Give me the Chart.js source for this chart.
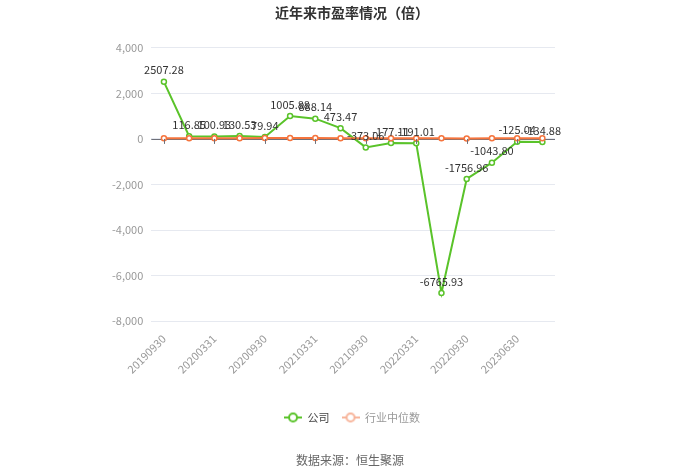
<!DOCTYPE html>
<html><head><meta charset="utf-8">
<script src="https://cdn.jsdelivr.net/npm/chart.js@4"></script>
<style>
html,body{margin:0;padding:0;background:#fff;}
#wrap{position:relative;width:700px;height:473px;}
#src{position:absolute;left:0;width:700px;top:451px;text-align:center;font:12px "Noto Sans CJK SC",sans-serif;color:#666;}
</style></head>
<body><div id="wrap"><canvas id="c" width="700" height="473"></canvas><div id="src">数据来源：恒生聚源</div></div>
<script>
const categories = ['20190930','20191231','20200331','20200630','20200930','20201231','20210331','20210630','20210930','20211231','20220331','20220630','20220930','20230331','20230630','20230930'];
const companyPE = [2507.28,116.85,100.93,130.53,79.94,1005.88,888.14,473.47,-373.06,-177.11,-191.01,-6765.93,-1756.96,-1043.80,-125.04,-134.88];
const industryPE = [32,30,29,33,35,38,36,34,30,28,26,24,23,25,27,28];
const yTicks = [4000,2000,0,-2000,-4000,-6000,-8000];

const GREEN = '#5ac32a', ORANGE = '#f5743d', PEACH = '#f7b49a';
const CJK = '"Noto Sans CJK SC", "Noto Sans", sans-serif';

function legendIcon(color){
  const cv = document.createElement('canvas');
  cv.width = 18; cv.height = 12;
  const g = cv.getContext('2d');
  g.strokeStyle = color; g.lineWidth = 2;
  g.beginPath(); g.moveTo(0,6); g.lineTo(18,6); g.stroke();
  g.beginPath(); g.arc(9,6,4,0,Math.PI*2); g.fillStyle='#fff'; g.fill(); g.stroke();
  return cv;
}

const decor = {
  id:'decor',
  afterDatasetsDraw(chart){
    const ctx = chart.ctx, x = chart.scales.x, y = chart.scales.y;
    const y0 = y.getPixelForValue(0);
    ctx.save();
    ctx.strokeStyle = '#6e7079'; ctx.lineWidth = 1;
    categories.forEach((c,i)=>{
      if(i%2) return;
      const px = Math.round(x.getPixelForValue(i))+0.5;
      ctx.beginPath(); ctx.moveTo(px,y0); ctx.lineTo(px,y0+5); ctx.stroke();
    });
    ctx.font = '11px ' + CJK;
    ctx.fillStyle = '#333';
    ctx.textAlign = 'center'; ctx.textBaseline = 'bottom';
    const meta = chart.getDatasetMeta(0);
    meta.data.forEach((p,i)=>{
      ctx.fillText(companyPE[i].toFixed(2), p.x, p.y-6);
    });
    ctx.restore();
  },
  beforeDatasetsDraw(chart){
    const ctx = chart.ctx, y = chart.scales.y;
    const y0 = Math.round(y.getPixelForValue(0))+0.5;
    ctx.save();
    ctx.strokeStyle = '#6e7079'; ctx.lineWidth = 1;
    ctx.beginPath(); ctx.moveTo(chart.chartArea.left,y0); ctx.lineTo(chart.chartArea.right,y0); ctx.stroke();
    ctx.restore();
  }
};

new Chart(document.getElementById('c'), {
  type:'line',
  data:{
    labels:categories,
    datasets:[
      {label:'公司', data:companyPE, borderColor:GREEN, backgroundColor:'#fff', borderWidth:2,
       pointRadius:2.5, pointBorderWidth:1.5, pointBackgroundColor:'#fff', pointBorderColor:GREEN, tension:0, order:1},
      {label:'行业中位数', data:industryPE, borderColor:ORANGE, backgroundColor:'#fff', borderWidth:2,
       pointRadius:2.5, pointBorderWidth:1.5, pointBackgroundColor:'#fff', pointBorderColor:ORANGE, tension:0, order:0}
    ]
  },
  options:{
    responsive:false, animation:false,
    layout:{padding:{left:104,right:100,top:0,bottom:40}},
    scales:{
      x:{offset:true, grid:{display:false}, border:{display:false},
         afterFit:(s)=>{s.height += 21;},
         ticks:{autoSkip:false, maxRotation:45, minRotation:45, color:'#999', font:{size:11,family:CJK},
                callback:(v,i)=> i%2===0 ? categories[i] : ''}},
      y:{min:-8000, max:4000, afterBuildTicks:(s)=>{s.ticks = yTicks.map(v=>({value:v}));},
         grid:{color:'#e6e9f0', drawTicks:false}, border:{display:false},
         ticks:{color:'#999', padding:8, font:{size:11,family:CJK}, callback:(v)=>v.toLocaleString('en-US')}},
      y2:{position:'right', display:true, grid:{display:false}, border:{display:false},
          ticks:{display:false}, afterFit:(s)=>{s.width = 45;}}
    },
    plugins:{
      title:{display:true, text:'近年来市盈率情况（倍）', color:'#333', font:{size:14,weight:'bold',family:CJK}, padding:{top:4,bottom:27}},
      legend:{position:'bottom', labels:{usePointStyle:true, pointStyleWidth:18, boxHeight:12, color:'#666', font:{size:11,family:CJK}, padding:12,
        generateLabels:(chart)=>[
          {text:'公司', pointStyle:legendIcon(GREEN), fillStyle:'#fff', strokeStyle:GREEN, lineWidth:0, datasetIndex:0, fontColor:'#444'},
          {text:'行业中位数', pointStyle:legendIcon(PEACH), fillStyle:'#fff', strokeStyle:PEACH, lineWidth:0, datasetIndex:1, fontColor:'#999'}
        ]}},
      tooltip:{enabled:false}
    }
  },
  plugins:[decor]
});
</script></body></html>
